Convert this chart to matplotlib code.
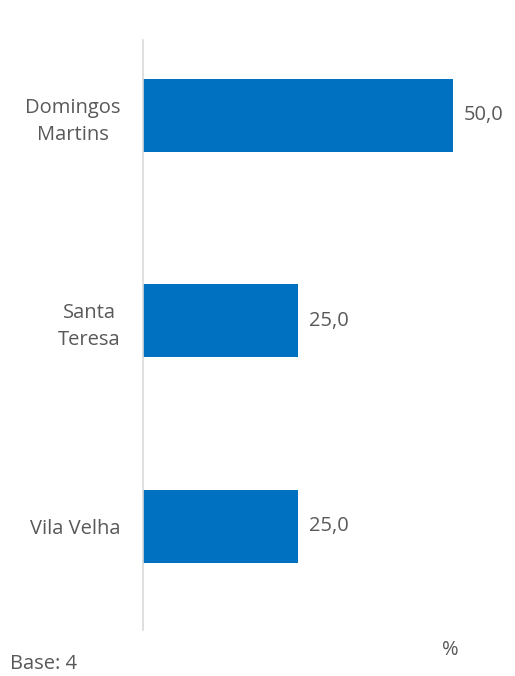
import matplotlib.pyplot as plt

plt.rcParams['font.family'] = ['Open Sans', 'DejaVu Sans']

# dados
categorias = ['Domingos\nMartins', 'Santa\nTeresa', 'Vila Velha']
valores = [50.0, 25.0, 25.0]
rotulos = ['50,0', '25,0', '25,0']
base_txt = 'Base: 4'

cor_barra = '#0070C0'
cor_texto = '#595959'

fig = plt.figure(figsize=(5.15, 6.76), dpi=100)
ax = fig.add_axes([0.278, 0.068, 0.722, 0.873])

pos = range(len(categorias))
barras = ax.barh(pos, valores, height=0.355, color=cor_barra)
ax.bar_label(barras, labels=rotulos, padding=8, fontsize=14.5, color=cor_texto)

ax.set_xlim(0, 60)
ax.set_ylim(2.504, -0.367)
ax.set_yticks(list(pos))
ax.set_yticklabels(categorias, fontsize=14.5, color=cor_texto,
                   multialignment='center', linespacing=1.45)
ax.tick_params(axis='y', length=0, pad=16)
ax.set_xticks([])

for s in ['top', 'right', 'bottom']:
    ax.spines[s].set_visible(False)
ax.spines['left'].set_color('#D9D9D9')
ax.spines['left'].set_linewidth(1.2)

fig.text(450 / 515, 1 - 650 / 676, '%', fontsize=14.5, color=cor_texto, ha='center', va='center')
fig.text(10 / 515, 1 - 664 / 676, base_txt, fontsize=14.5, color=cor_texto, ha='left', va='center')

plt.savefig('out.png', dpi=100)
